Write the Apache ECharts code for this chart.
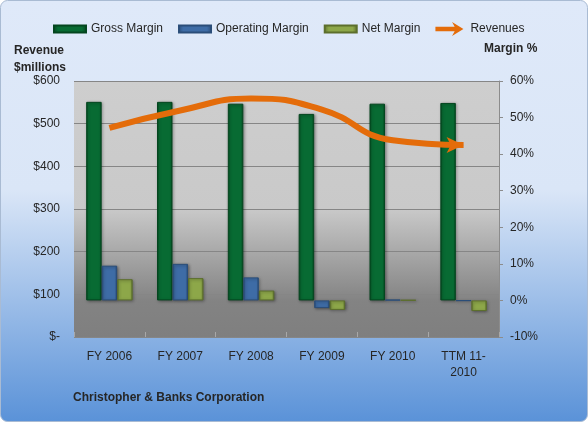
<!DOCTYPE html>
<html>
<head>
<meta charset="utf-8">
<script src="https://cdn.jsdelivr.net/npm/echarts@6/dist/echarts.min.js"></script>
<style>
  html, body { margin: 0; padding: 0; background: #fff; }
  #chart { width: 588px; height: 422px; }
</style>
</head>
<body>
<div id="chart"></div>
<script>
// values
const categories = ['FY 2006', 'FY 2007', 'FY 2008', 'FY 2009', 'FY 2010', 'TTM 11-\n2010'];
const grossMargin = [54.3, 54.3, 53.8, 51.0, 53.8, 54.0];
const operatingMargin = [9.5, 10.0, 6.3, -2.1, 0.2, -0.1];
const netMargin = [5.8, 6.1, 2.7, -2.6, 0.1, -2.9];
const revenues = [490, 531, 559, 533, 461, 450];

const FONT = 'Liberation Sans, Arial, sans-serif';
const TEXT = '#262626';

// horizontal gradient gives the bars a bevelled look
function bevel(edge, main) {
  return new echarts.graphic.LinearGradient(0, 0, 1, 0, [
    { offset: 0, color: edge },
    { offset: 0.15, color: main },
    { offset: 0.85, color: main },
    { offset: 1, color: edge }
  ]);
}

function barSeries(name, data, edge, main) {
  return {
    name: name,
    type: 'bar',
    yAxisIndex: 1,
    barWidth: 15.5,
    barGap: '0%',
    data: data,
    itemStyle: {
      color: bevel(edge, main),
      borderColor: edge,
      borderWidth: 1,
      shadowColor: 'rgba(0,0,0,0.35)',
      shadowBlur: 3,
      shadowOffsetX: 1,
      shadowOffsetY: 1
    }
  };
}

const chart = echarts.init(document.getElementById('chart'));

// last point gets an arrow head pointing right
const revenueData = revenues.map((v, i) => i === revenues.length - 1
  ? { value: v, symbol: 'arrow', symbolSize: [12, 17], symbolRotate: -90, symbolOffset: [0, 0] }
  : { value: v, symbol: 'none' });

const options = {
  backgroundColor: '#ffffff',
  textStyle: { fontFamily: FONT },
  graphic: [
    {
      type: 'rect',
      z: -10,
      silent: true,
      shape: { x: 0.5, y: 0.5, width: 587, height: 421, r: 7 },
      style: {
        fill: new echarts.graphic.LinearGradient(0, 0, 0, 1, [
          { offset: 0, color: '#dfe9f9' },
          { offset: 0.45, color: '#dae6f7' },
          { offset: 1, color: '#5a92d8' }
        ]),
        stroke: '#a9bbd3',
        lineWidth: 1
      }
    }
  ],
  title: [
    {
      text: 'Revenue\n$millions',
      left: 14, top: 42, padding: 0,
      textStyle: { fontSize: 12, fontWeight: 'bold', color: TEXT, lineHeight: 17, fontFamily: FONT }
    },
    {
      text: 'Margin %',
      left: 484, top: 43, padding: 0,
      textStyle: { fontSize: 12, fontWeight: 'bold', color: TEXT, fontFamily: FONT }
    },
    {
      text: 'Christopher & Banks Corporation',
      left: 73, top: 392, padding: 0,
      textStyle: { fontSize: 12, fontWeight: 'bold', color: TEXT, fontFamily: FONT }
    }
  ],
  legend: {
    left: 48,
    top: 17,
    itemWidth: 32,
    itemHeight: 14,
    itemGap: 15,
    textStyle: { fontSize: 12, color: TEXT, fontFamily: FONT },
    data: [
      { name: 'Gross Margin', icon: 'path://M0,0 H32 V7 H0 Z' },
      { name: 'Operating Margin', icon: 'path://M0,0 H32 V7 H0 Z' },
      { name: 'Net Margin', icon: 'path://M0,0 H32 V7 H0 Z' },
      { name: 'Revenues', icon: 'path://M0,5.5 L22,5.5 L19,0 L32,8 L19,16 L22,10.5 L0,10.5 Z' }
    ]
  },
  grid: {
    left: 74,
    right: 89,
    top: 81,
    bottom: 85,
    show: true,
    borderWidth: 0,
    backgroundColor: new echarts.graphic.LinearGradient(0, 0, 0, 1, [
      { offset: 0, color: '#cecece' },
      { offset: 0.5, color: '#c9c9c9' },
      { offset: 0.86, color: '#838383' },
      { offset: 1, color: '#7f7f7f' }
    ])
  },
  xAxis: {
    type: 'category',
    data: categories,
    axisLine: { show: false },
    axisTick: { show: true, inside: true, length: 5, lineStyle: { color: '#a8a8a8' } },
    axisLabel: { interval: 0, margin: 12, fontSize: 12, lineHeight: 16, color: TEXT, fontFamily: FONT },
    splitLine: { show: false }
  },
  yAxis: [
    {
      type: 'value',
      min: 0,
      max: 600,
      interval: 100,
      axisLine: { show: false },
      axisTick: { show: false },
      axisLabel: {
        margin: 14,
        fontSize: 12,
        color: TEXT,
        fontFamily: FONT,
        formatter: v => v === 0 ? '$-' : '$' + v
      },
      splitLine: { show: true, lineStyle: { color: '#868686', width: 1 } }
    },
    {
      type: 'value',
      min: -10,
      max: 60,
      interval: 10,
      position: 'right',
      axisLine: { show: true, lineStyle: { color: '#8c8c8c' } },
      axisTick: { show: true, length: 4, lineStyle: { color: '#8c8c8c' } },
      axisLabel: {
        margin: 11,
        fontSize: 12,
        color: TEXT,
        fontFamily: FONT,
        formatter: v => v + '%'
      },
      splitLine: { show: false }
    }
  ],
  series: [
    barSeries('Gross Margin', grossMargin, '#04461f', '#086b33'),
    barSeries('Operating Margin', operatingMargin, '#2a4d79', '#3e6ca6'),
    barSeries('Net Margin', netMargin, '#5c6f2c', '#8da749'),
    {
      name: 'Revenues',
      type: 'line',
      yAxisIndex: 0,
      smooth: 0.5,
      color: '#e46c0a',
      data: revenueData,
      lineStyle: { color: '#e46c0a', width: 6, cap: 'butt' },
      itemStyle: { color: '#e46c0a' },
      z: 5
    }
  ]
};

chart.setOption(options);
</script>
</body>
</html>
